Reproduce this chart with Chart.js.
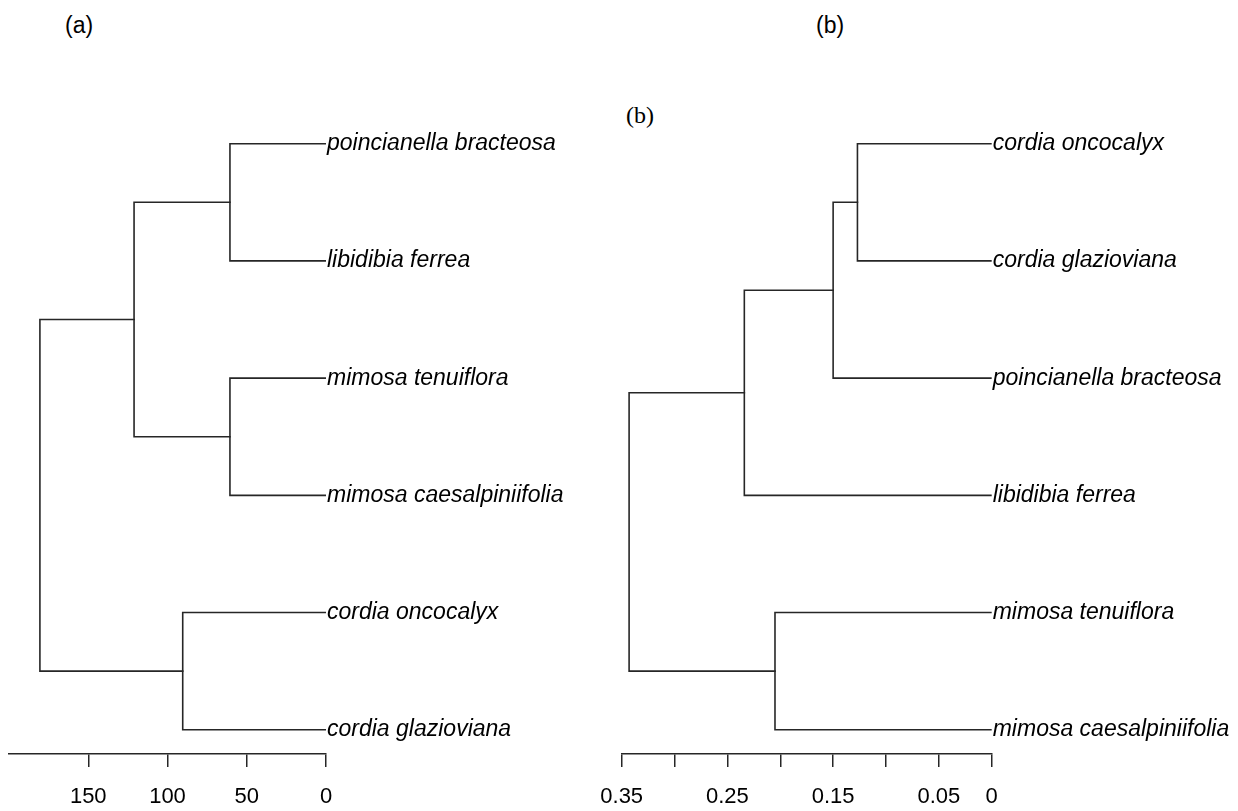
<!DOCTYPE html>
<html>
<head>
<meta charset="utf-8">
<title>Dendrograms (a) (b)</title>
<script src="https://cdn.jsdelivr.net/npm/chart.js@4/dist/chart.umd.min.js"></script>
<style>
  html, body { margin: 0; padding: 0; background: #fff; }
  #wrap { position: relative; width: 1238px; height: 811px; overflow: hidden; }
  #wrap canvas { position: absolute; top: 0; }
  .tag { position: absolute; line-height: 1; color: #000; white-space: nowrap; }
  .tag.sans  { font-family: 'Liberation Sans', Arial, sans-serif; font-size: 23px; }
  .tag.serif { font-family: 'Liberation Serif', 'Times New Roman', serif; font-size: 24px; }
</style>
</head>
<body>
<div id="wrap">
  <div class="tag sans"  style="left:65px;  top:14px">(a)</div>
  <div class="tag sans"  style="left:816px; top:14px">(b)</div>
  <div class="tag serif" style="left:626px; top:103px">(b)</div>
  <canvas id="dendro-a" width="600" height="811" style="left:0"></canvas>
  <canvas id="dendro-b" width="638" height="811" style="left:600px"></canvas>
</div>
<script>
'use strict';

/* ─── Panel (a) ─────────────────────────────────────────────── */
const leavesA     = ['poincianella bracteosa', 'libidibia ferrea', 'mimosa tenuiflora',
                     'mimosa caesalpiniifolia', 'cordia oncocalyx', 'cordia glazioviana'];
const mergeA      = [[-1, -2], [-3, -4], [-5, -6], [1, 2], [4, 3]];   // hclust-style merge
const heightA     = [60.6, 60.6, 90.4, 121.1, 180.5];
const ticksA      = [150, 100, 50, 0];
const tickLabelsA = ['150', '100', '50', '0'];

/* ─── Panel (b) ─────────────────────────────────────────────── */
const leavesB     = ['cordia oncocalyx', 'cordia glazioviana', 'poincianella bracteosa',
                     'libidibia ferrea', 'mimosa tenuiflora', 'mimosa caesalpiniifolia'];
const mergeB      = [[-1, -2], [1, -3], [2, -4], [-5, -6], [3, 4]];
const heightB     = [0.127, 0.150, 0.234, 0.205, 0.343];
const ticksB      = [0.35, 0.30, 0.25, 0.20, 0.15, 0.10, 0.05, 0];
const tickLabelsB = ['0.35', '', '0.25', '', '0.15', '', '0.05', '0'];

(function () {
  const INK   = '#262626';
  const SANS  = "'Liberation Sans', Arial, sans-serif";

  /* ─── merge table -> one U-shaped polyline per join ─────────── */
  function buildSegments(merge, height) {
    const nodes = [];
    const at = ref => (ref < 0 ? [0, -ref] : nodes[ref - 1]);
    return merge.map(([a, b], k) => {
      const h  = height[k];
      const pa = at(a), pb = at(b);
      nodes.push([h, (pa[1] + pb[1]) / 2]);
      return [
        { x: pa[0], y: pa[1] }, { x: h, y: pa[1] },
        { x: h,     y: pb[1] }, { x: pb[0], y: pb[1] },
      ];
    });
  }

  function makeDendro(id, cfg) {
    const ctx = document.getElementById(id).getContext('2d');
    const datasets = buildSegments(cfg.merge, cfg.height).map(pts => ({
      data: pts,
      showLine: true,
      borderColor: INK,
      borderWidth: 1.6,
      borderCapStyle: 'square',
      borderJoinStyle: 'miter',
      pointRadius: 0,
      fill: false,
      tension: 0,
    }));

    return new Chart(ctx, {
      type: 'scatter',
      data: { datasets },
      options: {
        responsive: false,
        animation: false,
        devicePixelRatio: 1,
        layout: { padding: { top: 98, left: cfg.padLeft, right: 0, bottom: 0 } },
        plugins: { legend: { display: false }, tooltip: { enabled: false } },
        scales: {
          x: {
            type: 'linear',
            reverse: true,
            min: 0,
            max: cfg.xMax,
            afterBuildTicks: s => { s.ticks = cfg.ticks.map(v => ({ value: v })); },
            // keep the plot edge where the axis starts; labels may overhang
            afterFit: s => { s.height = 57; s.paddingLeft = 0; s.paddingRight = 0; },
            ticks: {
              autoSkip: false,
              maxRotation: 0,
              padding: 17,
              color: '#000',
              font: { family: SANS, size: 22 },
              callback: v => cfg.tickLabels[cfg.ticks.indexOf(v)] ?? '',
            },
            grid: {
              display: true,
              drawOnChartArea: false,
              drawTicks: true,
              tickLength: 13,
              color: INK,
              lineWidth: 1.5,
            },
            border: { display: true, color: INK, width: 1.5 },
          },
          y: {
            type: 'linear',
            position: 'right',
            reverse: true,
            min: 0.61,
            max: 6.207,
            afterBuildTicks: s => { s.ticks = cfg.leaves.map((_, i) => ({ value: i + 1 })); },
            afterFit: s => { s.width = cfg.labelWidth; s.paddingTop = 0; s.paddingBottom = 0; },
            ticks: {
              autoSkip: false,
              padding: 1,
              color: '#000',
              font: { family: SANS, size: 23, style: 'italic' },
              callback: v => cfg.leaves[v - 1] ?? '',
            },
            grid: { display: false, drawTicks: false },
            border: { display: false },
          },
        },
      },
    });
  }

  /* ─── Boot ────────────────────────────────────────────────── */
  makeDendro('dendro-a', {
    leaves: leavesA, merge: mergeA, height: heightA,
    ticks: ticksA, tickLabels: tickLabelsA,
    xMax: 200, padLeft: 9, labelWidth: 274,
  });
  makeDendro('dendro-b', {
    leaves: leavesB, merge: mergeB, height: heightB,
    ticks: ticksB, tickLabels: tickLabelsB,
    xMax: 0.35, padLeft: 21.7, labelWidth: 246.3,
  });
})();
</script>
</body>
</html>
